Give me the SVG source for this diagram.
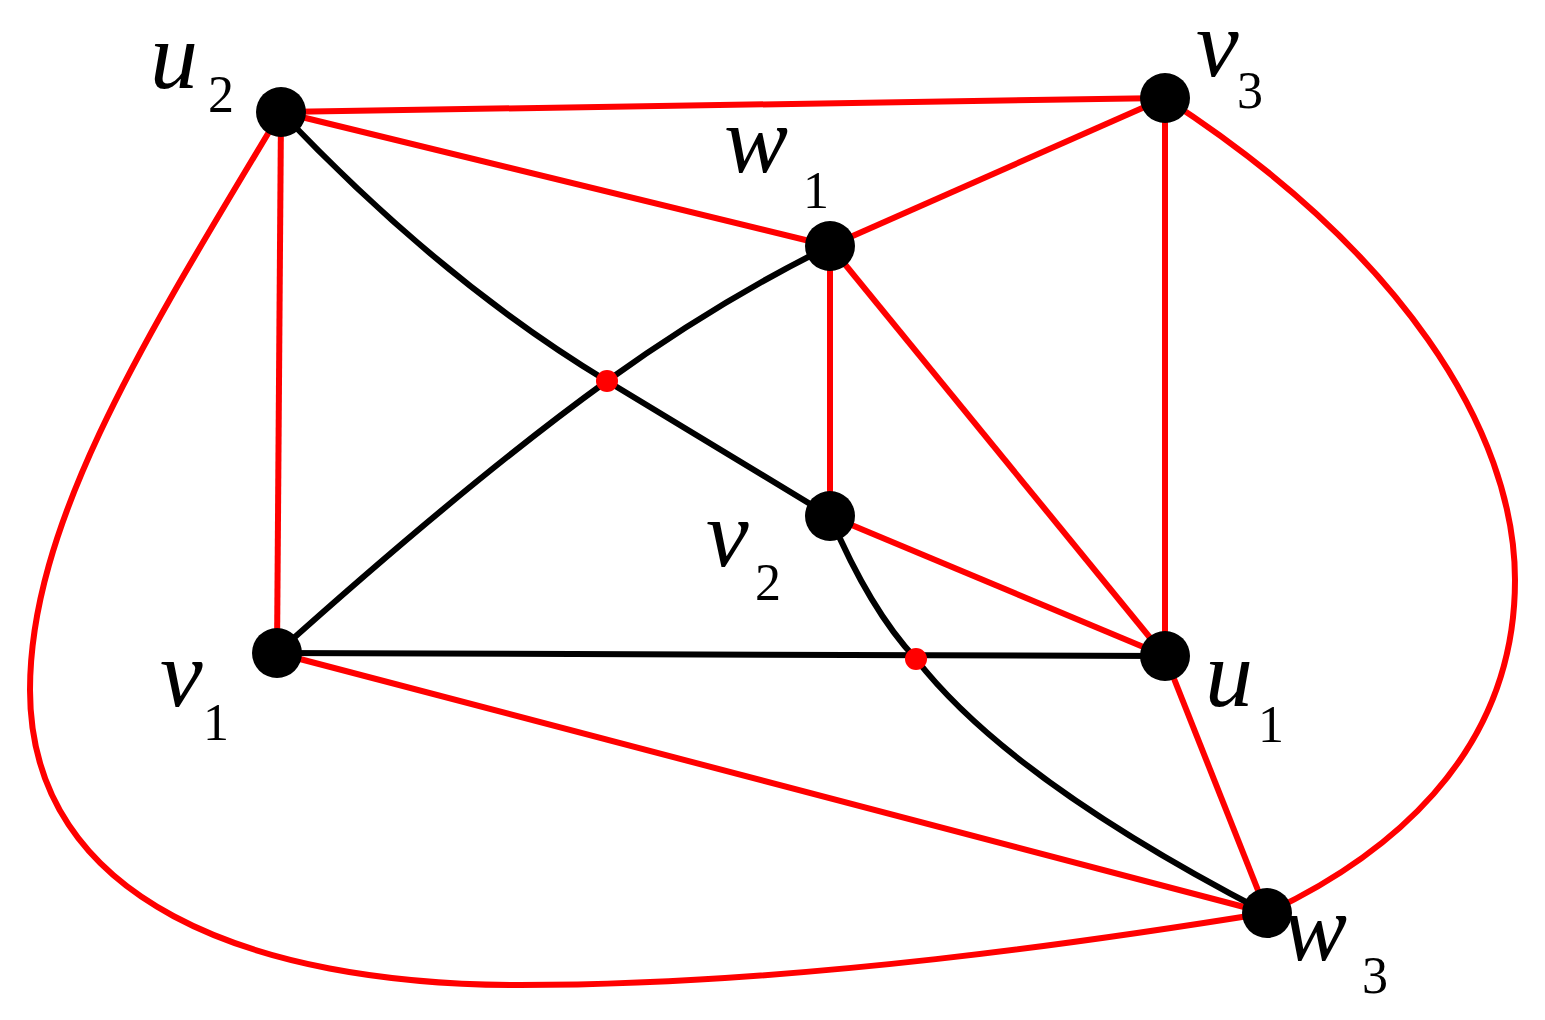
<svg xmlns="http://www.w3.org/2000/svg" width="1545" height="1020" viewBox="0 0 1545 1020">
<style>
.r{stroke:#f00;stroke-width:6;fill:none}
.k{stroke:#000;stroke-width:6;fill:none}
.n{fill:#000}
.d{fill:#f00}
text{font-family:"Liberation Serif",serif;font-style:italic;font-size:96px;fill:#000}
.s{font-style:normal;font-size:52px}
</style>
<rect width="1545" height="1020" fill="#fff"/>
<g id="connectors">
<path class="r" d="M281,112 L1165,98"/>
<path class="r" d="M281,112 L830,246"/>
<path class="r" d="M830,246 L1165,98"/>
<path class="r" d="M281,112 L277,653"/>
<path class="r" d="M830,246 L830,516"/>
<path class="r" d="M830,246 L1165,656"/>
<path class="r" d="M1165,98 L1165,656"/>
<path class="r" d="M830,516 L1165,656"/>
<path class="r" d="M277,653 L1267,913"/>
<path class="r" d="M1165,656 L1267,913"/>
<path class="r" d="M1165,98 C1400,250 1515,430 1515,580 C1515,760 1380,860 1267,913"/>
<path class="r" d="M281,112 C150,330 30,520 30,690 C30,900 250,985 520,985 C800,985 1100,940 1267,913"/>
<path class="k" d="M281,112 Q440,280 607,381 L830,516"/>
<path class="k" d="M277,653 Q470,480 607,381 Q720,300 830,246"/>
<path class="k" d="M277,653 L1165,656"/>
<path class="k" d="M830,516 Q870,610 916,659 Q1010,780 1267,913"/>
</g>
<g id="x1"><circle class="d" cx="607" cy="381" r="11"/></g>
<g id="x2"><circle class="d" cx="916" cy="659" r="11"/></g>
<g id="u2"><circle class="n" cx="281" cy="112" r="25"/><text x="150" y="88">u<tspan class="s" x="208" y="112">2</tspan></text></g>
<g id="v3"><circle class="n" cx="1165" cy="98" r="25"/><text x="1196" y="76">v<tspan class="s" x="1237" y="108">3</tspan></text></g>
<g id="w1"><circle class="n" cx="830" cy="246" r="25"/><text x="724" y="172">w<tspan class="s" x="803" y="208">1</tspan></text></g>
<g id="v2"><circle class="n" cx="830" cy="516" r="25"/><text x="706" y="566">v<tspan class="s" x="755" y="600">2</tspan></text></g>
<g id="v1"><circle class="n" cx="277" cy="653" r="25"/><text x="160" y="706">v<tspan class="s" x="203" y="740">1</tspan></text></g>
<g id="u1"><circle class="n" cx="1165" cy="656" r="25"/><text x="1205" y="706">u<tspan class="s" x="1258" y="742">1</tspan></text></g>
<g id="w3"><circle class="n" cx="1267" cy="913" r="25"/><text x="1283" y="960">w<tspan class="s" x="1362" y="993">3</tspan></text></g>
</svg>
